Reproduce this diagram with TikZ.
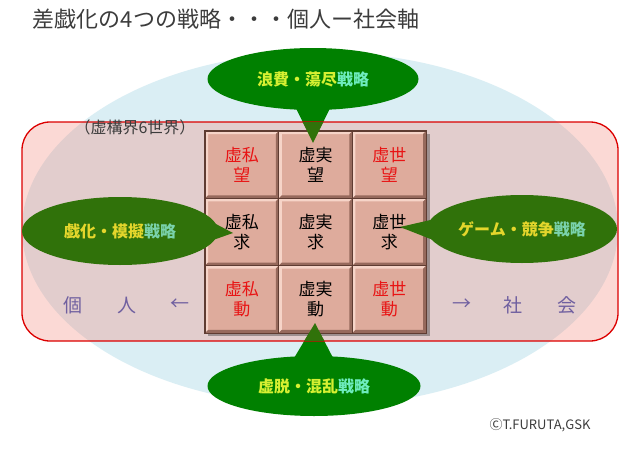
\documentclass[tikz,border=0pt]{standalone}
\usepackage{fontspec}
\setmainfont{Noto Sans CJK JP}
\usetikzlibrary{shapes.geometric}

\definecolor{skyfill}{RGB}{218,238,244}
\definecolor{pinkveil}{RGB}{245,132,118}
\definecolor{frame}{RGB}{220,0,0}
\definecolor{leaf}{RGB}{0,128,0}
\definecolor{leafdim}{RGB}{48,114,10}
\definecolor{lemon}{RGB}{214,240,50}
\definecolor{lemondim}{RGB}{228,214,44}
\definecolor{mint}{RGB}{110,236,190}
\definecolor{mintdim}{RGB}{122,210,172}
\definecolor{tile}{RGB}{222,171,156}
\definecolor{tilehi}{RGB}{246,212,200}
\definecolor{tilelo}{RGB}{150,105,92}
\definecolor{tileedge}{RGB}{95,60,50}
\definecolor{tilered}{RGB}{232,20,20}
\definecolor{axis}{RGB}{112,96,160}
\definecolor{ink}{RGB}{60,60,60}

\begin{document}
\begin{tikzpicture}[x=1pt,y=-1pt,
    bubble/.style={shape=ellipse,fill=leaf,inner sep=0pt,font=\fontsize{16}{16}\selectfont\bfseries},
    dimbubble/.style={bubble,fill=leafdim},
    tilebox/.style={shape=rectangle,fill=tile,draw=tileedge,line width=0.6pt,
      minimum width=73.7pt,minimum height=67.3pt,inner sep=0pt,align=center,
      font=\fontsize{17}{20}\selectfont,
      path picture={
        \fill[tilehi] (path picture bounding box.north west) -- (path picture bounding box.north east)
          -- ([shift={(-3pt,-3pt)}]path picture bounding box.north east) -- ([shift={(3pt,-3pt)}]path picture bounding box.north west)
          -- ([shift={(3pt,3pt)}]path picture bounding box.south west) -- (path picture bounding box.south west) -- cycle;
        \fill[tilelo] (path picture bounding box.south east) -- (path picture bounding box.north east)
          -- ([shift={(-3pt,-3pt)}]path picture bounding box.north east) -- ([shift={(-3pt,3pt)}]path picture bounding box.south east)
          -- ([shift={(3pt,3pt)}]path picture bounding box.south west) -- (path picture bounding box.south west) -- cycle;
      }},
    axislbl/.style={text=axis,inner sep=0pt,font=\fontsize{19}{19}\selectfont}]

  \useasboundingbox (0,0) rectangle (640,450);
  \fill[white] (0,0) rectangle (640,450);
  \fill[skyfill] (320,229) ellipse [x radius=298, y radius=177];

  % top and bottom strategies
  \node[bubble,minimum width=211pt,minimum height=62pt] (waste) at (313,79) {\textcolor{lemon}{浪費・蕩尽}\textcolor{mint}{戦略}};
  \node[bubble,minimum width=213pt,minimum height=60pt] (chaos) at (314,386) {\textcolor{lemon}{虚脱・混乱}\textcolor{mint}{戦略}};
  \coordinate (wasteTip) at (313,143);
  \coordinate (chaosTip) at (315,323);
  \fill[leaf] ([shift={(-18pt,4pt)}]waste.south) -- (wasteTip) -- ([shift={(18pt,4pt)}]waste.south) -- cycle;
  \fill[leaf] ([shift={(-21pt,-4pt)}]chaos.north) -- (chaosTip) -- ([shift={(20pt,-4pt)}]chaos.north) -- cycle;

  % the six worlds band
  \fill[pinkveil,fill opacity=0.3,rounded corners=28pt] (22,122) rectangle (618,341);
  \draw[frame,line width=1.3pt,rounded corners=28pt] (22,122) rectangle (618,341);

  % 3x3 tiles
  \fill[black,opacity=0.3] (208,134) rectangle (430,336);
  \foreach \nm/\cx/\cy/\tc/\up/\lo in {
      shiBo/241.9/164.7/tilered/虚私/望, jitsuBo/315.6/164.7/black/虚実/望, seBo/389.3/164.7/tilered/虚世/望,
      shiKyu/241.9/232/black/虚私/求, jitsuKyu/315.6/232/black/虚実/求, seKyu/389.3/232/black/虚世/求,
      shiDo/241.9/299.3/tilered/虚私/動, jitsuDo/315.6/299.3/black/虚実/動, seDo/389.3/299.3/tilered/虚世/動}
    \node[tilebox,text=\tc] (\nm) at (\cx,\cy) {\up\\\lo};
  \draw[tileedge,line width=1.4pt] (shiBo.north west) rectangle (seDo.south east);

  \begin{scope}
    \clip[rounded corners=28pt] (22,122) rectangle (618,341);
    \fill[leafdim] ([shift={(-18pt,4pt)}]waste.south) -- (wasteTip) -- ([shift={(18pt,4pt)}]waste.south) -- cycle;
    \fill[leafdim] ([shift={(-21pt,-4pt)}]chaos.north) -- (chaosTip) -- ([shift={(20pt,-4pt)}]chaos.north) -- cycle;
  \end{scope}

  % left and right strategies
  \node[dimbubble,minimum width=196pt,minimum height=68pt] (mimic) at (120,231) {\textcolor{lemondim}{戯化・模擬}\textcolor{mintdim}{戦略}};
  \node[dimbubble,minimum width=190pt,minimum height=68pt] (rival) at (522,229) {\textcolor{lemondim}{ゲーム・競争}\textcolor{mintdim}{戦略}};
  \coordinate (mimicTip) at (233,233);
  \coordinate (rivalTip) at (400,227);
  \fill[leafdim] ([shift={(-8pt,10pt)}]mimic.east) -- (mimicTip) -- ([shift={(-25pt,-16pt)}]mimic.east) -- cycle;
  \fill[leafdim] ([shift={(8pt,10pt)}]rival.west) -- (rivalTip) -- ([shift={(14pt,-14pt)}]rival.west) -- cycle;

  % labels
  \node[text=ink,inner sep=0pt,font=\fontsize{16}{16}\selectfont] (worlds) at (135,127) {（虚構界6世界）};
  \node[axislbl] (ko) at (73,305) {個};
  \node[axislbl] (jin) at (127,305) {人};
  \node[axislbl] (toLeft) at (180,305) {←};
  \node[axislbl] (toRight) at (462,305) {→};
  \node[axislbl] (sha) at (513,305) {社};
  \node[axislbl] (kai) at (567,305) {会};

  \node[text=ink,inner sep=0pt,font=\fontsize{22}{22}\selectfont] (title) at (226,19) {差戯化の4つの戦略・・・個人ー社会軸};
  \node[text=ink,inner sep=0pt,font=\fontsize{13}{13}\selectfont] (credit) at (540,425) {ⒸT.FURUTA,GSK};
\end{tikzpicture}
\end{document}
